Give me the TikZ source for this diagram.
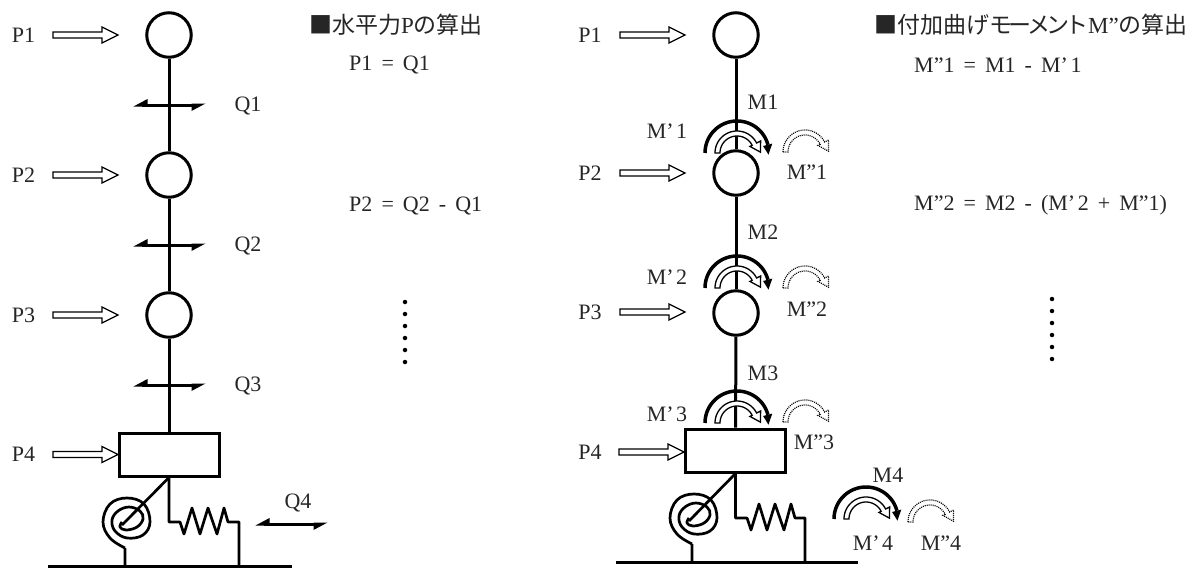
\documentclass[tikz,border=0pt]{standalone}
\usepackage{fontspec}
\setmainfont{Liberation Serif}
\newfontfamily\jp{Noto Sans CJK JP}
\newfontfamily\wideform[WordSpace=1.65]{Liberation Serif}
\newcommand{\mq}{M’\hspace{2.5pt}}
\newcommand{\kk}{\hspace{-4pt}}
\tikzset{
  lab/.style={inner sep=0pt,font=\fontsize{22}{24}\selectfont,text=black!85},
  frm/.style={inner sep=0pt,anchor=west,font=\fontsize{22}{24}\selectfont\wideform,text=black!85},
  ttl/.style={inner sep=0pt,anchor=west,font=\fontsize{23}{26}\selectfont\jp,text=black!85},
  stem/.style={line width=3pt},
  mass/.style={circle,draw,line width=3pt,minimum size=44.5pt,inner sep=0pt,fill=white},
  base/.style={draw,line width=3pt,minimum width=100pt,minimum height=43pt,inner sep=0pt,fill=white},
  thin/.style={line width=2.7pt,line join=round},
  hollow/.style={draw,fill=white,line width=1.3pt,line join=miter},
  dotband/.style={draw,line width=1.2pt,dash pattern=on 1pt off 1pt},
  spot/.style={circle,fill=black,inner sep=0pt,minimum size=4.5pt}
}
% block arrow, tip named by a coordinate
\newcommand{\parrow}[2]{%
  \coordinate (t#1) at (#2);
  \draw[hollow] ([shift={(-65,-3)}]t#1) -- ([shift={(-16,-3)}]t#1) -- ([shift={(-16,-8)}]t#1) -- (t#1) -- ([shift={(-16,8)}]t#1) -- ([shift={(-16,3)}]t#1) -- ([shift={(-65,3)}]t#1) -- cycle;}
% horizontal double half arrow
\newcommand{\qarrow}[3]{%
  \begin{scope}[shift={(#1,#2)}]
    \coordinate (ql#3) at (-28,0); \coordinate (qr#3) at (28,0);
    \draw[line width=3pt] (ql#3) -- (qr#3);
    \fill (-36,1.5) -- (-22,-6) -- (-22,1.5) -- cycle;
    \fill (36,-1.5) -- (22,6) -- (22,-1.5) -- cycle;
  \end{scope}}
% hollow curved arrow
\newcommand{\band}[3]{%
  \begin{scope}[shift={(#1,#2)}]
    \path[#3] plot[domain=180:333,samples=30] ({22*cos(\x)},{22*sin(\x)}) -- (333:26.5) -- (358:23.5) -- (333:14.5) -- plot[domain=333:180,samples=30] ({17*cos(\x)},{17*sin(\x)}) -- cycle;
  \end{scope}}
% thick curved arrow with its hollow band
\newcommand{\moment}[2]{%
  \begin{scope}[shift={(#1,#2)}]
    \draw[line width=3.5pt] plot[domain=180:345,samples=40] ({32*cos(\x)},{32*sin(\x)});
    \fill (345:27) -- (345:36.5) -- (3:31.5) -- cycle;
  \end{scope}
  \band{#1}{#2}{hollow}}
\begin{document}
\begin{tikzpicture}[x=1pt,y=-1pt]
\useasboundingbox (0,0) rectangle (1201,570);
% ---------- left column
\node[mass] (a1) at (169,35) {};
\node[mass] (a2) at (169,175) {};
\node[mass] (a3) at (169,315) {};
\node[base] (a4) at (169,454.5) {};
\draw[stem] (a1) -- (a2);
\draw[stem] (a2) -- (a3);
\draw[stem] (a3) -- (a4);
\parrow{a1}{118,35}
\parrow{a2}{118,175}
\parrow{a3}{118,315}
\coordinate (ca4) at (118,454.5);
\parrow{a4}{ca4}
\node[lab] at (23.5,35) {P1};
\node[lab] at (23.5,175) {P2};
\node[lab] at (23.5,315) {P3};
\node[lab] at (23.5,454) {P4};
\qarrow{169.5}{105}{a}
\qarrow{169.5}{245}{b}
\qarrow{169.5}{385}{c}
\qarrow{291.5}{524}{d}
\node[lab] at (248,106) {Q1};
\node[lab] at (248,246) {Q2};
\node[lab] at (248,386) {Q3};
\node[lab] at (298,503) {Q4};
\coordinate (ag1) at (48,566); \coordinate (ag2) at (292,566);
\draw[line width=3pt] (ag1) -- (ag2);
\draw[thin] (a4.south) -- (122,525);
\draw[thin] (125,566) -- (125,548) plot[smooth,tension=0.65] coordinates {(125,548) (110,538) (103,522) (110,504) (127,498) (144,504) (150,522) (143,535) (127,538) (115,531) (112,520) (118,511) (129,507) (140,511) (143,519) (137,527) (126,530) (120,527) (122,522)};
\draw[thin] (a4.south) -- (169,522) -- (180,522) -- (184,534) -- (192,508) -- (200,534) -- (208,508) -- (217,534) -- (224,508) -- (228,522) -- (239,522) -- (239,566);
\node[ttl] at (309,25) {■水平力{\rmfamily P}の算出};
\node[frm] at (349,65) {P1 = Q1};
\node[frm] at (349,206) {P2 = Q2 - Q1};
\foreach \i/\y in {1/302,2/314,3/326,4/338,5/350,6/362} \node[spot] (ds\i) at (405,\y) {};
% ---------- right column
\node[mass] (b1) at (736,35) {};
\node[mass] (b2) at (736,173) {};
\node[mass] (b3) at (736,313) {};
\node[base] (b4) at (735.5,450.5) {};
\draw[stem] (b1) -- (b2);
\draw[stem] (b2) -- (b3);
\draw[stem] (b3) -- (b4);
\parrow{b1}{685,35}
\parrow{b2}{685,173}
\parrow{b3}{685,312}
\parrow{b4}{684,452}
\node[lab] at (590,35) {P1};
\node[lab] at (590,173) {P2};
\node[lab] at (590,312) {P3};
\node[lab] at (590,452) {P4};
\moment{737}{153}
\moment{737}{288}
\moment{737}{423}
\moment{866}{519}
\band{805}{152}{dotband}
\band{805}{288}{dotband}
\band{805}{422}{dotband}
\band{930}{522}{dotband}
\node[lab] at (763,102) {M1};
\node[lab] at (763,232) {M2};
\node[lab] at (763,373) {M3};
\node[lab] at (888,475) {M4};
\node[lab] at (667,131) {\mq 1};
\node[lab] at (667,277) {\mq 2};
\node[lab] at (667,414) {\mq 3};
\node[lab] at (873,543) {\mq 4};
\node[lab] at (807,172) {M”1};
\node[lab] at (807,309) {M”2};
\node[lab] at (814,442) {M”3};
\node[lab] at (941,543) {M”4};
\coordinate (bg1) at (616,562); \coordinate (bg2) at (858,562);
\draw[line width=3pt] (bg1) -- (bg2);
\draw[thin] (b4.south) -- (689,521);
\draw[thin] (692,562) -- (692,544) plot[smooth,tension=0.65] coordinates {(692,544) (677,534) (670,518) (677,500) (694,494) (711,500) (717,518) (710,531) (694,534) (682,527) (679,516) (685,507) (696,503) (707,507) (710,515) (704,523) (693,526) (687,523) (689,518)};
\draw[thin] (b4.south) -- (735.5,518) -- (747,518) -- (751,530) -- (759,504) -- (767,530) -- (775,504) -- (784,530) -- (791,504) -- (795,518) -- (805,518) -- (805,562);
\node[ttl] at (874,25) {■付加曲げモ\kk ー\kk メ\kk ン\kk ト{\rmfamily M”}の算出};
\node[frm] at (914,65) {M”1 = M1 - \mq 1};
\node[frm] at (914,205) {M”2 = M2 - (\mq 2 + M”1)};
\foreach \i/\y in {1/299,2/311,3/323,4/335,5/347,6/359} \node[spot] (es\i) at (1052,\y) {};
\end{tikzpicture}
\end{document}
